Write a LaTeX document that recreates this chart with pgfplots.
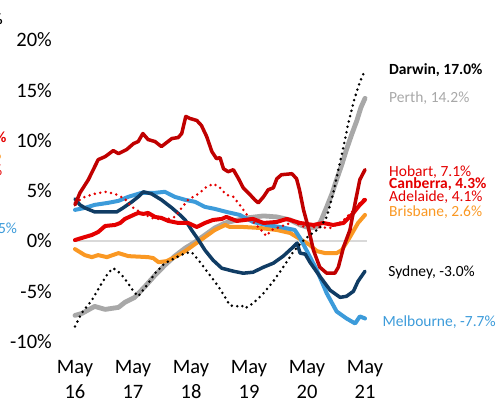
\documentclass[border=0pt]{standalone}
\usepackage{fontspec}
\setmainfont{Carlito}
\usepackage{pgfplots}
\pgfplotsset{compat=1.18}
\definecolor{cDarwin}{RGB}{0,0,0}
\definecolor{cPerth}{RGB}{168,168,168}
\definecolor{cHobart}{RGB}{192,0,0}
\definecolor{cRed}{RGB}{228,0,0}
\definecolor{cBris}{RGB}{250,152,35}
\definecolor{cSyd}{RGB}{16,60,100}
\definecolor{cMel}{RGB}{60,155,218}
\definecolor{cZero}{RGB}{217,217,217}
\begin{document}
\begin{tikzpicture}
\path[use as bounding box] (-70bp,-51.4bp) rectangle (427bp,351.6bp);
\begin{axis}[
  at={(0,0)}, anchor=south west,
  scale only axis, width=300bp, height=321.6bp,
  xmin=-0.086, xmax=5.086, ymin=-11, ymax=21,
  axis line style={draw=none}, tick style={draw=none},
  clip=false,
  xtick={0,1,2,3,4,5},
  xticklabels={May\\16,May\\17,May\\18,May\\19,May\\20,May\\21},
  xticklabel style={align=center, anchor=north, inner sep=0pt, yshift=-9bp,
     font=\fontsize{20.5bp}{25bp}\selectfont},
  ytick={-10,-5,0,5,10,15,20},
  yticklabel={\pgfmathprintnumber{\tick}\%},
  /pgf/number format/assume math mode=true,
  yticklabel style={anchor=east, inner sep=0pt, xshift=-18bp,
     font=\fontsize{20.5bp}{24bp}\selectfont},
  every axis plot/.append style={line join=round, line cap=round},
]
% zero line
\addplot[cZero, line width=2bp, line cap=butt] coordinates {(-0.03,0) (5.03,0)};
% Perth
\addplot[cPerth, line width=4.8bp] coordinates {
(0,-7.4) (0.12,-7.2) (0.34,-6.5) (0.52,-6.8) (0.75,-6.6) (0.86,-6.1) (1.03,-5.6)
(1.21,-4.5) (1.38,-3.4) (1.55,-2.4) (1.72,-1.5) (1.90,-0.7) (2.07,-0.1) (2.24,0.6)
(2.41,1.3) (2.59,1.8) (2.73,2.0) (2.96,2.3) (3.25,2.5) (3.48,2.4) (3.71,2.1)
(3.88,1.6) (4.05,1.3) (4.17,1.4) (4.24,2.0) (4.34,3.4) (4.43,4.7) (4.51,6.1)
(4.60,7.6) (4.68,9.1) (4.77,10.6) (4.86,12.0) (4.93,13.3) (5.0,14.2)};
% Brisbane
\addplot[cBris, line width=4bp] coordinates {
(0,-0.8) (0.17,-1.4) (0.29,-1.6) (0.40,-1.4) (0.55,-1.6) (0.75,-1.2) (0.92,-1.5)
(1.26,-1.6) (1.35,-1.7) (1.44,-2.1) (1.58,-2.0) (1.72,-1.6) (1.90,-1.0) (2.07,-0.3)
(2.24,0.4) (2.41,1.1) (2.59,1.6) (2.67,1.4) (2.90,1.4) (3.19,1.3) (3.48,1.1)
(3.71,0.8) (3.88,0.2) (4.05,-0.4) (4.17,-1.0) (4.31,-1.2) (4.51,-1.2) (4.60,-0.9)
(4.74,0.4) (4.88,1.8) (5.0,2.6)};
% Melbourne
\addplot[cMel, line width=4bp] coordinates {
(0,3.1) (0.17,3.3) (0.34,3.6) (0.57,3.8) (0.75,4.0) (0.92,4.4) (1.15,4.8) (1.38,4.8)
(1.55,4.9) (1.72,4.4) (1.90,4.1) (2.07,3.9) (2.24,3.4) (2.41,3.2) (2.61,2.9)
(2.84,2.6) (3.07,1.9) (3.30,1.6) (3.53,1.4) (3.79,1.1) (3.88,0.3) (3.99,-0.9)
(4.17,-2.9) (4.34,-5.2) (4.51,-7.0) (4.68,-7.7) (4.83,-8.2) (4.91,-7.5) (5.0,-7.7)};
% Sydney
\addplot[cSyd, line width=3.5bp] coordinates {
(0,4.2) (0.086,3.6) (0.17,3.3) (0.34,2.9) (0.52,2.9) (0.72,2.9) (0.83,3.3) (0.98,3.9)
(1.09,4.4) (1.18,4.9) (1.32,4.7) (1.49,4.1) (1.67,3.3) (1.81,2.6) (1.90,2.1)
(2.01,1.1) (2.13,0.1) (2.24,-0.9) (2.38,-1.9) (2.53,-2.7) (2.73,-3.0) (2.90,-3.2)
(3.07,-3.1) (3.25,-2.6) (3.42,-2.2) (3.59,-1.5) (3.76,-0.6) (3.83,-0.2) (3.88,-1.2)
(3.97,-1.3) (4.05,-2.1) (4.22,-3.5) (4.40,-4.9) (4.57,-5.6) (4.68,-5.5) (4.80,-5.0)
(4.88,-4.0) (5.0,-3.0)};
% Adelaide
\addplot[cRed, line width=4bp] coordinates {
(0,0.1) (0.17,0.4) (0.29,0.6) (0.40,0.9) (0.52,1.5) (0.69,1.6) (0.78,1.8) (0.86,2.2)
(1.01,2.6) (1.09,2.8) (1.18,2.7) (1.26,2.8) (1.38,2.4) (1.49,2.3) (1.61,2.0)
(1.78,1.8) (1.95,1.8) (2.10,1.4) (2.24,1.8) (2.38,2.1) (2.53,2.2) (2.61,2.4)
(2.79,2.0) (3.07,2.2) (3.25,1.8) (3.48,1.9) (3.65,2.2) (3.88,1.8) (4.11,1.6)
(4.28,1.8) (4.45,1.6) (4.63,1.8) (4.80,2.8) (4.91,3.6) (5.0,4.1)};
% Canberra
\addplot[cRed, line width=2.8bp, dash pattern=on 0bp off 5.5bp] coordinates {
(0,3.8) (0.17,4.4) (0.34,4.7) (0.52,4.9) (0.69,4.7) (0.86,4.2) (0.98,3.4) (1.15,2.8)
(1.32,2.3) (1.55,2.1) (1.72,2.4) (1.84,3.3) (1.95,4.1) (2.13,4.7) (2.27,5.4)
(2.39,5.7) (2.50,5.3) (2.61,4.6) (2.73,4.4) (2.84,3.6) (2.99,2.4) (3.16,1.4)
(3.30,0.5) (3.39,1.1) (3.53,1.4) (3.76,1.9) (3.99,1.3) (4.17,1.4) (4.40,1.3)
(4.62,2.0) (4.79,3.0) (4.91,3.8) (5.0,4.3)};
% Hobart
\addplot[cHobart, line width=3.5bp] coordinates {
(0,3.6) (0.086,4.8) (0.23,6.1) (0.40,8.1) (0.52,8.4) (0.66,9.0) (0.75,8.7) (0.89,9.1)
(1.01,9.7) (1.09,9.9) (1.17,10.7) (1.26,10.1) (1.38,9.9) (1.49,9.4) (1.67,10.2)
(1.78,10.3) (1.84,10.7) (1.91,12.4) (1.98,12.2) (2.10,12.0) (2.18,11.5) (2.27,10.4)
(2.36,8.9) (2.44,8.2) (2.50,8.3) (2.56,7.2) (2.64,6.9) (2.73,7.1) (2.82,6.2)
(2.90,5.3) (3.02,4.6) (3.10,4.1) (3.16,3.8) (3.25,4.4) (3.33,5.1) (3.42,5.3)
(3.48,6.2) (3.56,6.6) (3.74,6.7) (3.82,6.2) (3.87,5.1) (3.94,3.1) (4.02,1.4)
(4.11,-0.9) (4.22,-2.6) (4.34,-3.2) (4.48,-3.2) (4.54,-2.6) (4.63,-0.6) (4.74,1.1)
(4.83,3.8) (4.91,6.1) (5.0,7.1)};
% Darwin
\addplot[cDarwin, line width=2.8bp, dash pattern=on 0bp off 5.5bp] coordinates {
(0,-8.5) (0.11,-7.2) (0.29,-5.9) (0.46,-4.2) (0.57,-3.2) (0.66,-2.7) (0.78,-3.2)
(0.89,-4.0) (1.01,-5.0) (1.09,-5.5) (1.24,-4.4) (1.38,-3.2) (1.55,-2.2) (1.72,-1.7)
(1.90,-1.2) (2.01,-1.1) (2.13,-1.9) (2.30,-3.2) (2.47,-4.5) (2.59,-5.6) (2.67,-6.4)
(2.79,-6.5) (2.87,-6.4) (2.93,-6.7) (3.07,-6.2) (3.25,-5.2) (3.42,-4.0) (3.59,-2.6)
(3.76,-1.1) (3.91,-0.1) (4.05,0.6) (4.22,1.3) (4.34,2.4) (4.45,4.7) (4.54,7.1)
(4.63,9.4) (4.71,11.7) (4.81,14.0) (4.91,15.8) (5.0,17.0)};
% end labels
\begin{scope}[every node/.style={inner sep=0pt, anchor=base west, font=\fontsize{15.5bp}{18bp}\selectfont}]
\node[text=black, font=\fontsize{15.5bp}{18bp}\selectfont\bfseries] at (axis cs:5.414,16.62) {Darwin, 17.0\%};
\node[text=cPerth] at (axis cs:5.414,13.76) {Perth, 14.2\%};
\node[text=cRed] at (axis cs:5.414,6.40) {Hobart, 7.1\%};
\node[text=cRed, font=\fontsize{15.5bp}{18bp}\selectfont\bfseries] at (axis cs:5.414,5.20) {Canberra, 4.3\%};
\node[text=cRed] at (axis cs:5.414,3.98) {Adelaide, 4.1\%};
\node[text=cBris] at (axis cs:5.414,2.49) {Brisbane, 2.6\%};
\node[text=black] at (axis cs:5.40,-3.48) {Sydney, -3.0\%};
\node[text=cMel] at (axis cs:5.30,-8.53) {Melbourne, -7.7\%};
% fragments of a neighbouring panel, cut by the left edge
\node[anchor=base east, text=black, font=\fontsize{15.5bp}{18bp}\selectfont\bfseries] at (axis cs:-1.241,21.5) {Darwin, 3.0\%};
\node[anchor=base east, text=cRed, font=\fontsize{15.5bp}{18bp}\selectfont\bfseries] at (axis cs:-1.178,9.85) {Canberra, 5.0\%};
\node[anchor=base east, text=cBris] at (axis cs:-1.264,8.16) {Brisbane, 4.0\%};
\node[anchor=base east, text=cRed] at (axis cs:-1.253,6.57) {Adelaide, 4.0\%};
\node[anchor=base east, text=cMel] at (axis cs:-0.995,0.8) {Melbourne, 2.5\%};
\end{scope}
\end{axis}
\end{tikzpicture}
\end{document}
